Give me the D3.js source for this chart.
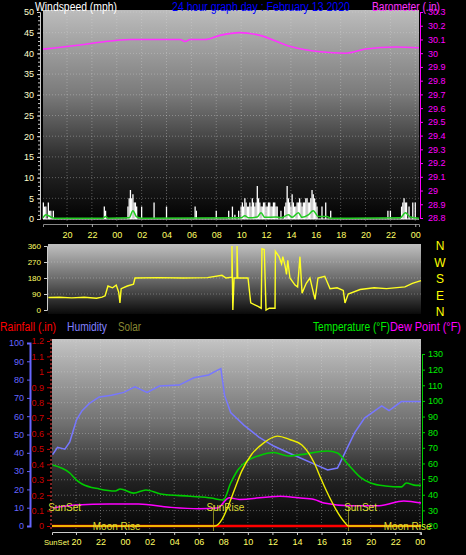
<!DOCTYPE html>
<html><head><meta charset="utf-8">
<script src="https://cdn.jsdelivr.net/npm/d3@7"></script>
<style>body{margin:0;background:#000}svg{display:block}text{font-family:"Liberation Sans",Arial,sans-serif}</style>
</head><body><svg id="c" width="466" height="555"></svg>
<script>
// ---- data (hours: 18 = 18:00 Feb 12, 24 = midnight, 48 = midnight Feb 14)
const hourTicks=[20,22,24,26,28,30,32,34,36,38,40,42,44,46,48];
const baro=[[18.07,30.03],[21.05,30.06],[22.65,30.08],[25.07,30.10],[29.1,30.10],[29.5,30.085],[29.9,30.10],[31.1,30.10],[32.3,30.13],[33.9,30.15],[35.5,30.13],[37.9,30.05],[40.35,30.01],[42.4,30.0],[44,30.03],[46.4,30.045],[48.3,30.04]];
const gusts=[[18.1,4],[18.2,3],[18.3,3],[18.5,4],[18.6,2],[18.7,2],[18.9,2],[23.0,3],[23.1,2],[24.9,3],[25.0,5],[25.1,7],[25.2,5],[25.3,6],[25.4,4],[25.5,4],[25.6,3],[26.0,3],[27.0,4],[28.0,3],[30.3,3],[30.4,2],[32.0,2],[33.0,2],[33.3,3],[33.5,1],[33.8,2],[34.0,3],[34.1,4],[34.2,3],[34.3,5],[34.4,4],[34.5,3],[34.6,3],[34.7,4],[34.8,3],[34.9,5],[35.0,4],[35.1,3],[35.2,4],[35.3,8],[35.4,5],[35.5,4],[35.6,3],[35.7,3],[35.8,4],[35.9,4],[36.0,3],[36.1,3],[36.2,4],[36.3,4],[36.4,3],[36.5,3],[36.6,4],[36.7,4],[36.8,3],[36.9,3],[37.2,2],[37.5,3],[37.6,4],[37.7,8],[37.8,5],[37.9,4],[38.0,3],[38.1,6],[38.2,4],[38.3,3],[38.4,3],[38.5,4],[38.6,4],[38.7,5],[38.8,4],[38.9,3],[39.0,4],[39.1,4],[39.2,5],[39.3,5],[39.4,4],[39.5,4],[39.6,5],[39.7,7],[39.8,6],[39.9,5],[40.0,4],[40.1,3],[40.5,3],[40.8,4],[41.2,2],[45.8,2],[46.0,2],[46.9,3],[47.0,4],[47.1,5],[47.2,4],[47.3,4],[47.5,3],[47.8,4],[48.0,4]];
const windAvg=[[18.07,0.3],[18.3,1],[18.7,0.5],[19,0.2],[22.9,0.2],[23.1,0.6],[23.3,0.2],[25,0.3],[25.3,2],[25.6,0.5],[26,0.2],[34,0.3],[34.3,0.8],[34.6,0.3],[35.3,0.5],[35.6,1.5],[35.9,0.4],[36.8,0.5],[37.2,0.3],[37.8,1.0],[38.1,0.4],[38.6,1.5],[38.9,0.4],[39.4,1.0],[39.8,2],[40.2,0.6],[40.9,0.6],[41.2,0.2],[46.8,0.3],[47.2,1.5],[47.6,0.5],[48.3,0.2]];
const windDir=[[18.1,70],[19,72],[20,68],[21,72],[22,66],[22.45,72],[22.7,80],[22.93,135],[23.3,125],[23.6,140],[23.8,100],[23.9,40],[24.0,120],[24.5,135],[25.0,145],[25.12,180],[27,182],[29,180],[31,182],[32.17,195],[32.5,180],[32.98,185],[32.98,360],[33.05,0],[33.15,180],[33.39,180],[33.39,360],[33.45,180],[34.28,180],[34.5,40],[35.09,20],[35.35,10],[35.41,345],[35.6,340],[35.74,0],[36.0,10],[36.47,10],[36.5,330],[36.8,300],[37.0,260],[37.1,300],[37.28,250],[37.4,200],[37.5,280],[37.68,180],[38.09,140],[38.3,130],[38.49,300],[38.66,95],[39.0,150],[39.3,180],[39.5,120],[39.71,60],[39.95,180],[40.5,190],[40.93,120],[41.5,125],[42.0,110],[42.14,40],[42.4,90],[43.36,115],[44.5,125],[45.5,120],[47.0,130],[47.6,150],[48.3,165]];
const humidity=[[18.1,39],[18.5,43],[19.1,42],[19.5,46],[20.05,58],[20.5,63],[21.1,67],[21.9,70.5],[22.9,71.5],[23.9,73],[24.8,76],[25.8,73],[26.8,76.5],[28.4,77],[29.6,81],[30.8,82.5],[31.5,85],[31.8,86],[32.1,71.5],[32.6,62],[33.7,55],[34.9,48.6],[36.1,43.7],[37.3,40],[38.1,37.7],[39.7,33],[40.5,30.6],[41.3,31.7],[41.9,40],[42.7,51],[43.5,59],[44.9,65.6],[45.5,63],[46.5,68],[47.3,68],[48.1,68]];
const temperature=[[18.1,59],[19.5,53.9],[20.05,49.4],[20.5,46.9],[21.9,43.7],[23.2,42.4],[23.6,43.7],[24.7,41],[25.7,43],[26.9,40.5],[29.3,39],[31.0,37.9],[32.0,36.6],[32.6,47.5],[33.2,56],[34.0,62],[34.9,65],[36.1,67],[37.3,64.8],[38.1,65.4],[40.5,68],[41.3,66.7],[42.1,60],[43.2,51],[44.0,47.5],[45.2,45.6],[46.5,45],[46.9,47.5],[47.7,46],[48.1,46]];
const dewPoint=[[18.1,31.5],[20.05,33.4],[22.7,34],[25.1,34],[27.6,32],[30.0,31],[31.5,31.5],[32.5,38],[33.3,37],[36.6,39],[38.1,38],[39.4,37],[40.2,34.7],[42.3,33],[44.7,33],[46.7,36],[48.1,34.7]];
const solar=[[18.05,0],[31.3,0],[31.9,40],[32.4,120],[32.9,216],[33.5,330],[34.3,430],[35.3,500],[36.4,540],[37.4,520],[38.4,487],[39.4,380],[40.0,276],[40.6,180],[41.2,96],[41.8,30],[42.2,0],[48.1,0]];
const rain=[[18.05,0],[48.1,0]];
const sunEvents=[{h:18.1,label:"SunSet"},{h:31.2,label:"SunRise"},{h:42.2,label:"SunSet"}];
const moonEvents=[{h:22.5,label:"Moon Rise"},{h:46.2,label:"Moon Rise"}];
const dirLetters=["N","W","S","E","N"];

const svg=d3.select("#c");
const defs=svg.append("defs");
function grad(id,stops){const g=defs.append("linearGradient").attr("id",id).attr("x1",0).attr("x2",0).attr("y1",0).attr("y2",1);stops.forEach(s=>g.append("stop").attr("offset",s[0]).attr("stop-color",s[1]));}
grad("g1",[[0,"#bcbcbc"],[0.4,"#7a7a7a"],[0.7,"#2c2c2c"],[1,"#000"]]);
grad("g2",[[0,"#c0c0c0"],[0.5,"#6a6a6a"],[1,"#0a0a0a"]]);
grad("g3",[[0,"#c4c4c4"],[0.45,"#6e6e6e"],[0.75,"#202020"],[1,"#050505"]]);
const fmtH=h=>String(h%24).padStart(2,"0");
function txt(x,y,s,col,size,anchor,len){const t=svg.append("text").attr("x",x).attr("y",y).text(s).attr("fill",col).attr("font-size",size||11).attr("text-anchor",anchor||"start");if(len)t.attr("textLength",len).attr("lengthAdjust","spacingAndGlyphs");return t;}
const grid=(g)=>g.attr("stroke","#ddd").attr("stroke-opacity",0.35).attr("stroke-dasharray","1,2");

// ---------- Panel 1
const x1=d3.scaleLinear().domain([18.07,48.3]).range([43,419]);
const yW=d3.scaleLinear().domain([0,50]).range([219,12]);
const yB=d3.scaleLinear().domain([28.8,30.3]).range([218,12]);
svg.append("rect").attr("x",43).attr("y",10).attr("width",376).attr("height",212).attr("fill","url(#g1)");
hourTicks.forEach(h=>grid(svg.append("line").attr("x1",x1(h)).attr("x2",x1(h)).attr("y1",10).attr("y2",222)));
d3.range(0,51,5).forEach(v=>grid(svg.append("line").attr("x1",43).attr("x2",419).attr("y1",yW(v)).attr("y2",yW(v))));
svg.append("g").attr("transform","translate(40,0)").call(d3.axisLeft(yW).tickValues(d3.range(0,51,5)).tickSize(3)).call(g=>{g.select(".domain").attr("stroke","#ccc");g.selectAll("line").attr("stroke","#ccc");g.selectAll("text").attr("fill","#ffffcc").attr("font-size",9);});
svg.append("g").attr("transform","translate(40,0)").call(d3.axisLeft(yW).ticks(50).tickSize(2).tickFormat("")).call(g=>{g.select(".domain").remove();g.selectAll("line").attr("stroke","#ccc");});
svg.append("g").attr("transform","translate(420,0)").call(d3.axisRight(yB).tickValues(d3.range(28.8,30.31,0.1)).tickFormat(d=>+d.toFixed(1)).tickSize(3)).call(g=>{g.select(".domain").attr("stroke","#f0f");g.selectAll("line").attr("stroke","#f0f");g.selectAll("text").attr("fill","#f0f").attr("font-size",9).attr("x",8);});
svg.append("g").attr("transform","translate(0,224)").call(d3.axisBottom(x1).tickValues(hourTicks).tickFormat(fmtH).tickSize(3)).call(g=>{g.select(".domain").attr("stroke","#888");g.selectAll("line").attr("stroke","#aaa");g.selectAll("text").attr("fill","#ffff66").attr("font-size",9).attr("dy","0.9em");});
svg.append("line").attr("x1",43).attr("x2",419).attr("y1",yW(0)).attr("y2",yW(0)).attr("stroke","#fff").attr("stroke-width",1);
svg.append("g").selectAll("line").data(gusts).join("line").attr("x1",d=>x1(d[0])).attr("x2",d=>x1(d[0])).attr("y1",yW(0)).attr("y2",d=>yW(d[1])).attr("stroke","#fff").attr("stroke-width",1.3);
svg.append("path").datum(windAvg).attr("d",d3.line().x(d=>x1(d[0])).y(d=>yW(d[1])).curve(d3.curveMonotoneX)).attr("fill","none").attr("stroke","#22cc22").attr("stroke-width",1.5);
svg.append("path").datum(baro).attr("d",d3.line().x(d=>x1(d[0])).y(d=>yB(d[1])).curve(d3.curveMonotoneX)).attr("fill","none").attr("stroke","#ff33ff").attr("stroke-width",1.6);
txt(35,11,"Windspeed (mph)","#fff",12,"start",82);
txt(172,11,"24 hour graph day : February 13 2020","#0000ff",12,"start",178);
txt(372,11,"Barometer (.in)","#ff33ff",12,"start",68);

// ---------- Panel 2
const x2=d3.scaleLinear().domain([18.07,48.3]).range([48,421]);
const yD=d3.scaleLinear().domain([0,360]).range([310,246]);
svg.append("rect").attr("x",48).attr("y",244).attr("width",373).attr("height",70).attr("fill","url(#g2)");
[90,180,270].forEach(v=>grid(svg.append("line").attr("x1",48).attr("x2",421).attr("y1",yD(v)).attr("y2",yD(v))));
svg.append("g").attr("transform","translate(47,0)").call(d3.axisLeft(yD).tickValues([0,90,180,270,360]).tickSize(3)).call(g=>{g.select(".domain").attr("stroke","#ccc");g.selectAll("line").attr("stroke","#ccc");g.selectAll("text").attr("fill","#ffff66").attr("font-size",8);});
svg.append("path").datum(windDir).attr("d",d3.line().x(d=>x2(d[0])).y(d=>yD(d[1]))).attr("fill","none").attr("stroke","#ffff22").attr("stroke-width",1.4);
dirLetters.forEach((l,i)=>txt(440,250+i*16.5,l,"#ffff00",12,"middle"));

// ---------- Panel 3
const x3=d3.scaleLinear().domain([18.05,48.1]).range([52,421]);
const yH=d3.scaleLinear().domain([0,100]).range([526,343]);
const yR=d3.scaleLinear().domain([0,1.2]).range([526,341]);
const yT=d3.scaleLinear().domain([20,130]).range([526,354]);
const yS=d3.scaleLinear().domain([0,1100]).range([526,343]);
svg.append("rect").attr("x",52).attr("y",339).attr("width",369).attr("height",192).attr("fill","url(#g3)");
hourTicks.forEach(h=>grid(svg.append("line").attr("x1",x3(h)).attr("x2",x3(h)).attr("y1",339).attr("y2",531)));
d3.range(0.1,1.21,0.1).forEach(v=>grid(svg.append("line").attr("x1",52).attr("x2",421).attr("y1",yR(v)).attr("y2",yR(v))));
svg.append("line").attr("x1",51).attr("x2",51).attr("y1",339).attr("y2",531).attr("stroke","#ff4444").attr("stroke-dasharray","2,2");
svg.append("g").attr("transform","translate(30,0)").call(d3.axisLeft(yH).tickValues(d3.range(0,101,10)).tickSize(3)).call(g=>{g.select(".domain").attr("stroke","#6666ff").attr("stroke-width",2);g.selectAll("line").attr("stroke","#6666ff");g.selectAll("text").attr("fill","#6666ff").attr("font-size",9);});
svg.append("g").attr("transform","translate(50,0)").call(d3.axisLeft(yR).tickValues(d3.range(0,1.21,0.1)).tickFormat(d=>+d.toFixed(1)).tickSize(3)).call(g=>{g.select(".domain").remove();g.selectAll("line").attr("stroke","#cc0000");g.selectAll("text").attr("fill","#cc0000").attr("font-size",9);});
svg.append("g").attr("transform","translate(422,0)").call(d3.axisRight(yT).tickValues(d3.range(20,131,10)).tickSize(3)).call(g=>{g.select(".domain").attr("stroke","#00cc00");g.selectAll("line").attr("stroke","#00cc00");g.selectAll("text").attr("fill","#00ee00").attr("font-size",9).attr("x",6);});
svg.append("g").attr("transform","translate(0,532)").call(d3.axisBottom(x3).tickValues(hourTicks).tickFormat(fmtH).tickSize(3)).call(g=>{g.select(".domain").attr("stroke","#ccc");g.selectAll("line").attr("stroke","#ccc");g.selectAll("text").attr("fill","#ffff66").attr("font-size",9).attr("dy","0.8em");});
txt(44,545,"SunSet","#ffff66",8,"start",25);
sunEvents.slice(1).forEach(e=>svg.append("line").attr("x1",x3(e.h)).attr("x2",x3(e.h)).attr("y1",505).attr("y2",531).attr("stroke","#aaaa22").attr("stroke-width",0.8));
const L=(s)=>d3.line().x(d=>x3(d[0])).y(d=>s(d[1]));
svg.append("path").datum(rain).attr("d",L(yR)).attr("stroke","#ff0000").attr("stroke-width",2.5).attr("fill","none");
svg.append("path").datum(humidity).attr("d",L(yH)).attr("stroke","#7777ff").attr("stroke-width",1.5).attr("fill","none");
svg.append("path").datum(temperature).attr("d",L(yT).curve(d3.curveMonotoneX)).attr("stroke","#00cc00").attr("stroke-width",1.6).attr("fill","none");
svg.append("path").datum(dewPoint).attr("d",L(yT).curve(d3.curveMonotoneX)).attr("stroke","#ff00ff").attr("stroke-width",1.5).attr("fill","none");
svg.append("path").datum(solar).attr("d",L(yS).curve(d3.curveMonotoneX)).attr("stroke","#eeee00").attr("stroke-width",1.4).attr("fill","none");
sunEvents.forEach(e=>txt(x3(e.h)+12,511,e.label,"#dddd33",10,"middle"));
moonEvents.forEach(e=>txt(x3(e.h)+10,530,e.label,"#dddd33",10,"middle"));
txt(0,331,"Rainfall (.in)","#ff0000",12,"start",56);
txt(67,331,"Humidity","#8080ff",12,"start",40);
txt(118,331,"Solar","#888833",12,"start",23);
txt(313,331,"Temperature (°F)","#00ee00",12,"start",77);
txt(390,331,"Dew Point (°F)","#ff00ff",12,"start",71);
</script></body></html>
